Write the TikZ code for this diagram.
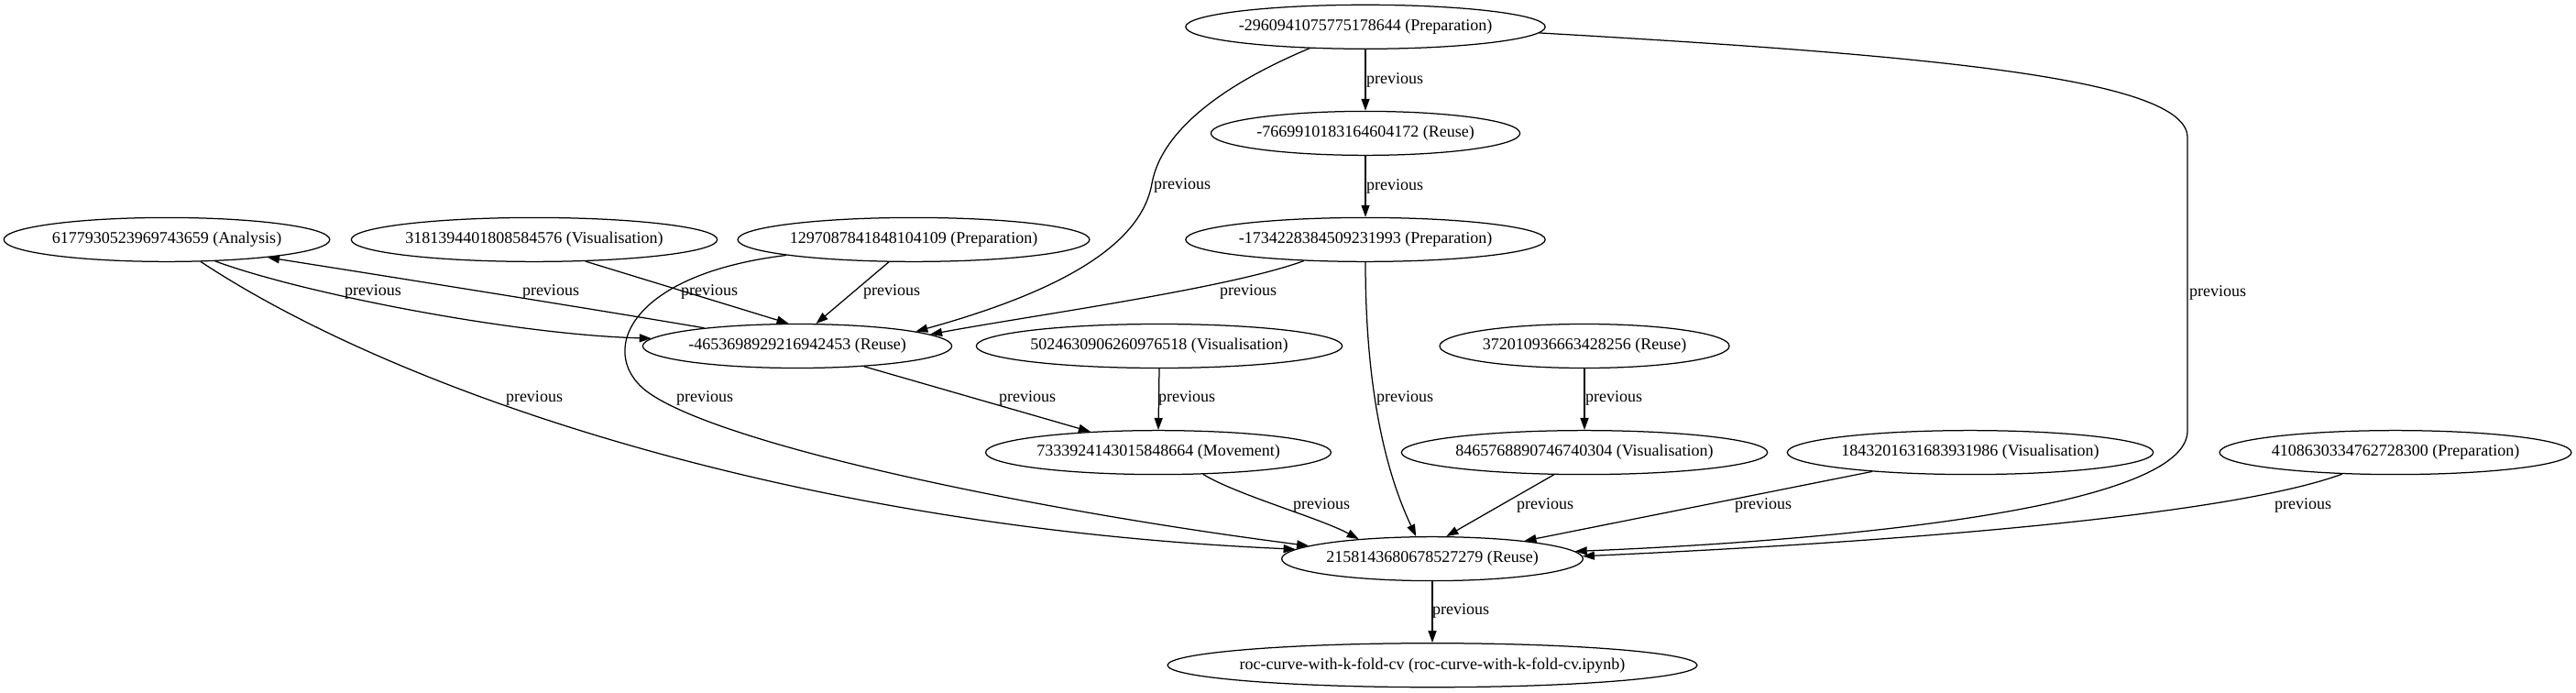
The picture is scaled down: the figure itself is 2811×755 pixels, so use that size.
\documentclass[tikz,border=0pt]{standalone}
\usepackage{fontspec}
\setmainfont{Liberation Serif}
\usetikzlibrary{shapes.geometric,arrows.meta}
\tikzset{
  nd/.style={ellipse, draw, line width=1.25pt, inner xsep=0.5pt, inner ysep=1pt,
    minimum height=48pt, font=\fontsize{18}{21}\selectfont},
  lbl/.style={inner sep=0pt, font=\fontsize{18}{21}\selectfont},
  ed/.style={-{Triangle[length=13pt,width=9pt]}, line width=1.25pt}
}
\begin{document}
\begin{tikzpicture}[x=1pt,y=-1pt]
\useasboundingbox (0,0) rectangle (2811,755);
% nodes
\node[nd] (A) at (1490,29.3) {-2960941075775178644 (Preparation)};
\node[nd] (B) at (1490,145.4) {-7669910183164604172 (Reuse)};
\node[nd] (C) at (1490,261.4) {-1734228384509231993 (Preparation)};
\node[nd] (D) at (182,261.4) {6177930523969743659 (Analysis)};
\node[nd] (E) at (583,261.4) {3181394401808584576 (Visualisation)};
\node[nd] (F) at (997,261.4) {1297087841848104109 (Preparation)};
\node[nd] (G) at (870,377.5) {-4653698929216942453 (Reuse)};
\node[nd] (H) at (1265,377.5) {5024630906260976518 (Visualisation)};
\node[nd] (I) at (1729,377.5) {372010936663428256 (Reuse)};
\node[nd] (J) at (1264,493.6) {7333924143015848664 (Movement)};
\node[nd] (K) at (1729,493.6) {8465768890746740304 (Visualisation)};
\node[nd] (L) at (2150,493.6) {1843201631683931986 (Visualisation)};
\node[nd] (M) at (2614,493.6) {4108630334762728300 (Preparation)};
\node[nd] (N) at (1563,609.6) {2158143680678527279 (Reuse)};
\node[nd, inner xsep=-6pt] (O) at (1563,725.7) {roc-curve-with-k-fold-cv (roc-curve-with-k-fold-cv.ipynb)};
% edges
\draw[ed] (A.south) -- (B.north);
\draw[ed] (B.south) -- (C.north);
\draw[ed] (A.201) .. controls (1340,90) and (1268,140) .. (1257,200)
          .. controls (1245,270) and (1150,320) .. (G.7.5);
\draw[ed] (A.358) .. controls (2100,60) and (2387,85) .. (2387,150)
          -- (2387,470) .. controls (2387,555) and (2000,590) .. (N.3);
\draw[ed] (C.199) .. controls (1340,315) and (1120,345) .. (G.5.5);
\draw[ed] (C.south) .. controls (1490,400) and (1505,500) .. (N.126);
\draw[ed] (D.336) .. controls (330,320) and (560,365) .. (G.177);
\draw[ed] (G.169) .. controls (640,336) and (420,301) .. (D.350);
\draw[ed] (D.327) .. controls (430,425) and (860,575) .. (N.176);
\draw[ed] (E.337) -- (G.111);
\draw[ed] (F.222) -- (G.50);
\draw[ed] (F.187) .. controls (680,300) and (650,390) .. (710,430)
          .. controls (800,490) and (1150,560) .. (N.174);
\draw[ed] (G.343) -- (J.163);
\draw[ed] (H.south) -- (J.north);
\draw[ed] (I.south) -- (K.north);
\draw[ed] (J.334) .. controls (1350,540) and (1440,565) .. (N.165);
\draw[ed] (K.216) -- (N.58);
\draw[ed] (L.191) -- (N.11);
\draw[ed] (M.202) .. controls (2440,560) and (2100,590) .. (N.1);
\draw[ed] (N.south) -- (O.north);
% labels
\node[lbl] (lAB) at (1522,87) {previous};
\node[lbl] (lBC) at (1522,203) {previous};
\node[lbl] (lAG) at (1290,202) {previous};
\node[lbl] (lAN) at (2420,319) {previous};
\node[lbl] (lCG) at (1362,318) {previous};
\node[lbl] (lCN) at (1533,434) {previous};
\node[lbl] (lDG) at (407,318) {previous};
\node[lbl] (lGD) at (601,318) {previous};
\node[lbl] (lDN) at (583,434) {previous};
\node[lbl] (lEG) at (774,318) {previous};
\node[lbl] (lFG) at (973,318) {previous};
\node[lbl] (lFN) at (769,434) {previous};
\node[lbl] (lGJ) at (1121,434) {previous};
\node[lbl] (lHJ) at (1295,434) {previous};
\node[lbl] (lIK) at (1761,434) {previous};
\node[lbl] (lJN) at (1442,551) {previous};
\node[lbl] (lKN) at (1686,551) {previous};
\node[lbl] (lLN) at (1924,551) {previous};
\node[lbl] (lMN) at (2513,551) {previous};
\node[lbl] (lNO) at (1594,666) {previous};
\end{tikzpicture}
\end{document}
